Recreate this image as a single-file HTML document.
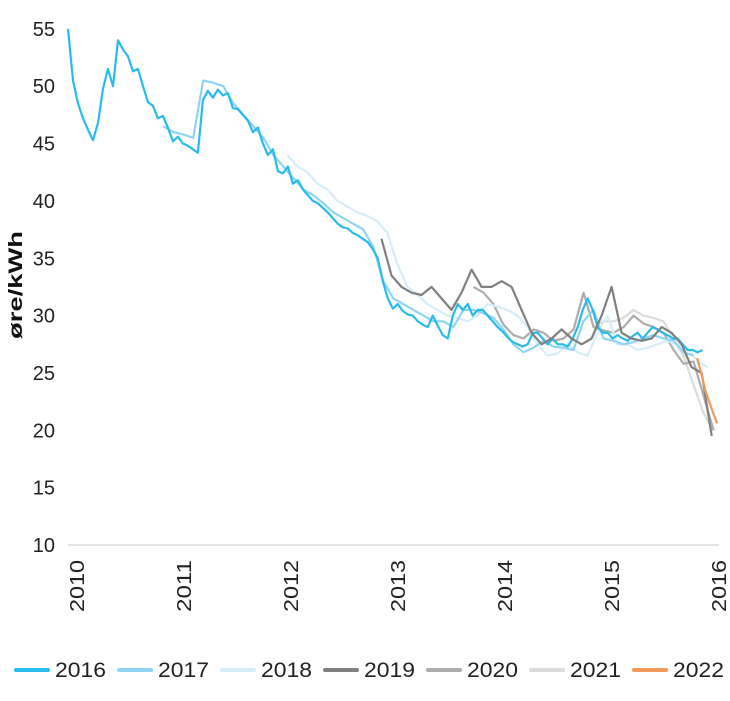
<!DOCTYPE html>
<html><head><meta charset="utf-8"><style>
html,body{margin:0;padding:0;background:#fff;}
svg{display:block;font-family:"Liberation Sans",sans-serif;}
</style></head><body>
<svg id="chart" width="730" height="701" viewBox="0 0 730 701" xmlns="http://www.w3.org/2000/svg">
<g id="grid"></g><g id="yaxis"></g><g id="xaxis"></g><g id="series"></g><g id="legend"></g>
<text transform="translate(22,285) rotate(-90)" text-anchor="middle" font-size="19" font-weight="bold" fill="#111" textLength="108" lengthAdjust="spacingAndGlyphs">øre/kWh</text>
</svg>
<script>
const yTicks = [10,15,20,25,30,35,40,45,50,55];
const xTicks = [2010,2011,2012,2013,2014,2015,2016];
const seriesNames = ["2016","2017","2018","2019","2020","2021","2022"];
const seriesColors = ["#29bbea","#8fd5f3","#d6eefa","#808080","#adadad","#dcdcdc","#f39a5a"];
const seriesStart = [2010.0,2010.89,2012.05,2012.93,2013.79,2014.91,2015.88];
const seriesStep = [0.0467,0.0935,0.0935,0.0935,0.0935,0.0935,0.0374];
const v2016 = [55,50.5,48.5,47.2,46.2,45.3,46.8,49.8,51.5,50,54,53.2,52.6,51.3,51.5,50,48.6,48.3,47.2,47.4,46.4,45.2,45.6,45,44.8,44.5,44.2,48.8,49.6,49,49.7,49.2,49.4,48.1,48,47.5,47,46,46.4,45,44,44.5,42.6,42.4,43,41.5,41.8,41,40.5,40,39.8,39.4,39,38.5,38,37.7,37.6,37.2,37,36.7,36.4,35.8,35,33,31.5,30.6,31,30.4,30.1,30,29.5,29.2,29,30,29.1,28.3,28,30,31,30.5,31,30,30.5,30.5,30,29.5,29,28.6,28.1,27.7,27.5,27.3,27.5,28.5,28.5,28,27.5,28,27.5,27.5,27.3,28,29,30.5,31.5,30.5,29,28.5,28.5,28,28.3,28,27.8,28.2,28.5,28,28.5,29,28.8,28.5,28.3,28,28,27.5,27,27,26.8,27];
const v2017 = [46.5,46,45.8,45.5,50.5,50.3,50,48.5,47.5,46.5,45.5,44,43,42,41,40.5,39.8,39,38.5,38,37.5,36,33,31.5,31,30.5,30,29.5,29.5,29,30.5,30.5,30.2,29.8,28.8,27.5,26.8,27.2,27.8,27.3,27.2,27,29.5,30.5,28,27.8,27.5,27.7,28,28.3,28,27.8,26.8,26.5];
const v2018 = [44,43,42.5,41.5,41,40,39.5,39,38.7,38.2,37.2,34.5,32.5,31.8,31,30.5,30,29.8,29.5,30,31,30.8,30.5,30,29,27.5,26.5,26.7,27.5,26.8,26.5,28.5,30,27.5,27.5,27,27.2,27.5,27.8,27.5,27.2,26,25.5];
const v2019 = [36.7,33.5,32.5,32,31.8,32.5,31.5,30.5,32,34,32.5,32.5,33,32.5,30.5,28.5,27.5,28,28.8,28,27.5,28,30,32.5,28.5,28,27.8,28,29,28.5,27.5,25.5,25,19.5];
const v2020 = [32.5,32,31,29.2,28.3,28,28.8,28.5,27.8,28,28.8,32,29,28.7,28.5,29,30,29.3,29,28.5,27,25.8,26,23,20];
const v2021 = [29,29.5,29.5,29.8,30.5,30,29.8,29.5,28,26.5,24,21.5,20];
const v2022 = [26.3,25,23.5,22.5,21.5,20.6];
const seriesValues = [v2016,v2017,v2018,v2019,v2020,v2021,v2022];

const NS="http://www.w3.org/2000/svg";
function xs(t){return 68+(t-2010)*107;}
function ys(v){return 545-(v-10)*11.47;}
function mk(tag,attrs,parent){const e=document.createElementNS(NS,tag);for(const k in attrs)e.setAttribute(k,attrs[k]);parent.appendChild(e);return e;}

const grid=document.getElementById('grid');
const gl=mk('line',{x1:68,x2:719,y1:ys(10),y2:ys(10),stroke:'#e3e3e3','stroke-width':2},grid);



const ya=document.getElementById('yaxis');
yTicks.forEach(v=>{
  const t=mk('text',{x:55,y:ys(v)+7,'text-anchor':'end','font-size':20,fill:'#222'},ya);
  t.textContent=v;
  
  
});
const xa=document.getElementById('xaxis');
xTicks.forEach(yr=>{
  const x=xs(yr)+16;
  const t=mk('text',{transform:`translate(${x},560) rotate(-90)`,'text-anchor':'end','font-size':20,fill:'#222',textLength:52,lengthAdjust:'spacingAndGlyphs'},xa);
  t.textContent=yr;
  
  
});

const sg=document.getElementById('series');
const order=[5,4,2,1,0,3,6];
order.forEach(i=>{
  const vals=seriesValues[i];
  let d='';
  vals.forEach((v,j)=>{const t=seriesStart[i]+j*seriesStep[i];d+=(j?'L':'M')+xs(t).toFixed(1)+','+ys(v).toFixed(1);});
  const p=mk('path',{d:d,fill:'none',stroke:seriesColors[i],'stroke-width':2.2,'stroke-linejoin':'round'},sg);
  
  
});

const lg=document.getElementById('legend');
seriesNames.forEach((n,i)=>{
  const x0=16+i*103;
  const g=mk('g',{},lg);
  
  
  mk('line',{x1:x0,x2:x0+32,y1:670,y2:670,stroke:seriesColors[i],'stroke-width':4,'stroke-linecap':'round'},g);
  const t=mk('text',{x:x0+39,y:677,'font-size':21,fill:'#222',textLength:51,lengthAdjust:'spacingAndGlyphs'},g);
  t.textContent=n;
});
</script>
</body></html>
